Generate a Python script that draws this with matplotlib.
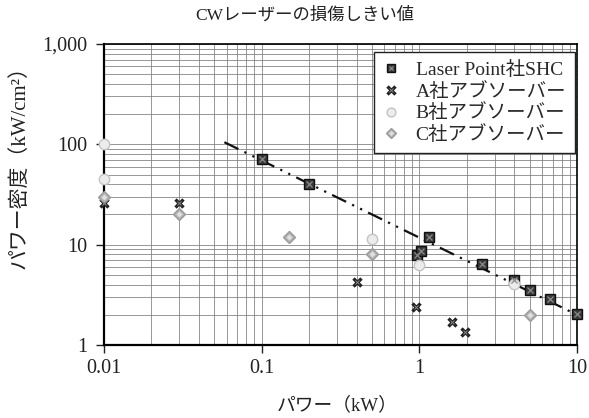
import matplotlib
matplotlib.use("Agg")
import matplotlib.pyplot as plt
from matplotlib.ticker import FixedLocator, LogLocator, NullFormatter

plt.rcParams['font.family'] = ['Liberation Serif', 'Noto Sans CJK JP']

title = "CWレーザーの損傷しきい値"
xlabel = "パワー（kW）"
ylabel = "パワー密度（kW/cm²）"

series_names = ["Laser Point社SHC", "A社アブソーバー", "B社アブソーバー", "C社アブソーバー"]

lp_x = [0.1, 0.2, 0.97, 1.02, 1.15, 2.5, 4.0, 5.0, 6.7, 10.0]
lp_y = [72, 40, 7.9, 8.6, 12, 6.4, 4.4, 3.5, 2.85, 2.05]

a_x = [0.01, 0.03, 0.4, 0.95, 1.6, 1.95]
a_y = [26, 26, 4.2, 2.4, 1.7, 1.35]

b_x = [0.01, 0.01, 0.5, 1.0, 4.0]
b_y = [100, 45, 11.3, 6.2, 4.1]

c_x = [0.01, 0.03, 0.15, 0.5, 5.0]
c_y = [30, 20, 12, 8.1, 2.0]

trend_x = [0.058, 10.0]
trend_y = [105, 2.0]

x_ticks = [0.01, 0.1, 1, 10]
x_ticklabels = ["0.01", "0.1", "1", "10"]
y_ticks = [1, 10, 100, 1000]
y_ticklabels = ["1", "10", "100", "1,000"]

fig = plt.figure(figsize=(5.89, 4.18), dpi=100)
ax = fig.add_axes([104/589, 1-345/418, (577-104)/589, (345-44)/418])
ax.set_xscale('log')
ax.set_yscale('log')
ax.set_xlim(0.01, 10)
ax.set_ylim(1, 1000)

ax.xaxis.set_major_locator(FixedLocator(x_ticks))
ax.yaxis.set_major_locator(FixedLocator(y_ticks))
ax.set_xticklabels(x_ticklabels)
ax.set_yticklabels(y_ticklabels)
ax.xaxis.set_minor_locator(LogLocator(base=10, subs=range(2, 10)))
ax.yaxis.set_minor_locator(LogLocator(base=10, subs=range(2, 10)))
ax.xaxis.set_minor_formatter(NullFormatter())
ax.yaxis.set_minor_formatter(NullFormatter())
ax.grid(True, which='both', color='#7a7a7a', linewidth=0.55)
ax.set_axisbelow(True)
ax.tick_params(which='major', direction='out', length=6, width=1, labelsize=14.5, colors='#222')
ax.tick_params(which='minor', length=0)
ax.tick_params(axis='x', pad=4)
ax.tick_params(axis='y', pad=6)
for s in ['left', 'bottom']:
    ax.spines[s].set_linewidth(1.6)
for s in ['top', 'right']:
    ax.spines[s].set_linewidth(1.2)

ax.plot(trend_x, trend_y, color='#111', linewidth=1.6, dashes=(7, 3, 1, 3, 1, 3), zorder=3)

h_lp1, = ax.plot(lp_x, lp_y, linestyle='none', marker='s', markersize=6.5, mfc='#3a3a3a', mec='#111', zorder=4, clip_on=False)
h_lp2, = ax.plot(lp_x, lp_y, linestyle='none', marker='x', markersize=4, mec='#8a8a8a', mew=0.9, zorder=5, clip_on=False)

h_a1, = ax.plot(a_x, a_y, linestyle='none', marker='x', markersize=6, mec='#222', mew=2.4, zorder=4, clip_on=False)
h_a2, = ax.plot(a_x, a_y, linestyle='none', marker='x', markersize=3.5, mec='#888', mew=0.7, zorder=5, clip_on=False)

h_b, = ax.plot(b_x, b_y, linestyle='none', marker='o', markersize=7.5, mfc='#ececec', mec='#c4c4c4', mew=1, zorder=4, clip_on=False)

h_c1, = ax.plot(c_x, c_y, linestyle='none', marker='D', markersize=6, mfc='#b5b5b5', mec='#9a9a9a', mew=1, zorder=4, clip_on=False)
h_c2, = ax.plot(c_x, c_y, linestyle='none', marker='D', markersize=3, mfc='#e0e0e0', mec='none', zorder=5, clip_on=False)

leg = ax.legend([(h_lp1, h_lp2), (h_a1, h_a2), h_b, (h_c1, h_c2)], series_names,
                loc='upper right', bbox_to_anchor=((575-104)/473, (345-52)/301), fontsize=14,
                frameon=True, fancybox=False, framealpha=1, edgecolor='#222',
                handlelength=0.9, handletextpad=0.8, labelspacing=0.15,
                borderpad=0.45, markerscale=0.85, borderaxespad=0)
leg.get_frame().set_linewidth(1.0)
for t in leg.get_texts():
    t.set_color('#2a2a2a')

fig.text(305/589, 1-15/418, title, ha='center', va='center', fontsize=12.5, color='#222')
fig.text(20/589, 1-162/418, ylabel, ha='center', va='center', rotation=90, fontsize=15, color='#222')
fig.text(337/589, 1-405/418, xlabel, ha='center', va='center', fontsize=13.5, color='#222')

fig.savefig("out.png", dpi=100)
